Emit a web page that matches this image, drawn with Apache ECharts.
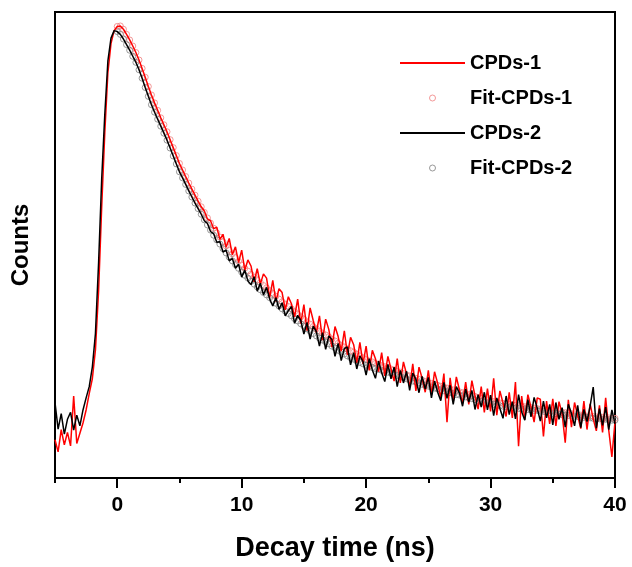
<!DOCTYPE html>
<html>
<head>
<meta charset="utf-8">
<script src="https://cdn.jsdelivr.net/npm/echarts@6/dist/echarts.min.js"></script>
<style>
  html, body { margin: 0; padding: 0; background: #fff; }
  #chart { width: 632px; height: 567px; }
</style>
</head>
<body>
<div id="chart"></div>
<script>
// time grid (ns): raw decays start at -5 ns, fits start at 0 ns, both 0.25 ns apart
const rawStart = -5
const fitStart = 0
const step = 0.25

const xLabels = [0, 10, 20, 30, 40]
const xMinorTicks = [-5, 5, 15, 25, 35]

// CPDs-1 (red) measured counts, normalised 0-100
const cpds1 = [
  8.2, 5.6, 10.4, 7.1, 9.8, 6.9, 17.6, 7.4, 9.6, 11.8,
  14.6, 18.1, 21.3, 27.5, 40.0, 58.0, 74.0, 87.0, 93.2, 96.0,
  96.9, 97.0, 96.3, 95.2, 94.0, 92.7, 91.3, 89.7, 87.9, 86.0, 84.0, 82.2, 80.5, 78.9,
  77.3, 75.8, 74.3, 72.6, 70.9, 69.2, 67.5, 66.1, 64.7, 63.3, 62.0, 60.7, 59.4, 58.2,
  57.3, 55.6, 55.2, 53.5, 53.8, 51.2, 52.3, 49.5, 51.4, 47.9, 49.6, 46.2,
  48.9, 44.6, 46.8, 45.5, 42.1, 44.9, 41.6, 43.8, 42.9, 38.7, 42.4, 37.9, 40.6, 39.8, 36.1, 38.9, 37.4, 34.6, 38.4, 33.1,
  37.2, 31.6, 36.5, 33.8, 31.2, 34.8, 29.6, 34.1, 31.9, 28.1, 32.5, 30.4, 27.2, 31.6, 26.4, 30.2, 28.6, 24.7, 29.1, 24.5,
  28.3, 23.1, 27.4, 25.6, 22.8, 26.9, 21.9, 26.1, 23.4, 20.8, 25.6, 20.4, 24.9, 22.3, 19.6, 24.5, 18.7, 23.8, 21.4, 18.4,
  23.1, 17.9, 22.8, 20.3, 17.2, 22.4, 12.0, 21.5, 16.4, 21.7, 18.9, 16.0, 20.6, 15.8, 20.9, 17.6, 14.8, 19.6, 14.1, 19.2,
  14.3, 21.4, 13.5, 18.7, 16.1, 13.2, 18.4, 12.9, 20.6, 6.8, 17.6, 12.5, 17.9, 15.2, 12.0, 17.2, 16.9, 8.9, 16.5, 11.6,
  17.0, 11.2, 16.4, 13.8, 7.6, 16.8, 10.9, 16.2, 13.4, 10.6, 16.5, 10.4, 15.9, 12.7, 10.1, 15.6, 9.8, 17.2, 10.2, 4.5, 12.1
]

// CPDs-2 (black) measured counts
const cpds2 = [
  16.2, 10.5, 13.8, 9.4, 12.6, 14.1, 10.3, 13.5, 11.2, 14.6,
  17.2, 19.6, 23.8, 31.0, 46.0, 64.0, 78.0, 89.5, 94.4, 96.0,
  95.8, 95.2, 94.2, 93.0, 91.8, 90.5, 89.2, 87.6, 85.8, 83.8, 81.9, 80.1, 78.5, 77.0,
  75.5, 74.0, 72.5, 70.8, 69.1, 67.4, 65.7, 64.4, 63.0, 61.6, 60.3, 59.0, 57.8, 56.6,
  55.2, 54.6, 52.9, 52.4, 50.6, 50.7, 48.5, 48.9, 46.6, 47.1, 45.0, 45.9,
  43.1, 44.6, 42.3, 41.5, 43.2, 40.1, 41.8, 39.3, 40.9, 38.4, 36.9, 38.7, 36.2, 37.6, 34.8, 35.9, 36.8, 33.2, 34.9, 33.8,
  30.9, 33.4, 29.8, 32.6, 31.4, 28.3, 31.2, 27.6, 30.5, 29.7, 26.1, 28.9, 25.2, 27.8, 28.1, 24.3, 26.9, 23.4, 26.2, 25.0,
  22.1, 25.6, 23.2, 21.4, 25.1, 22.6, 20.7, 24.4, 21.3, 23.8, 19.6, 23.1, 20.4, 22.9, 18.8, 22.5, 21.2, 18.3, 21.8, 19.1,
  21.6, 17.2, 20.8, 18.4, 16.6, 20.5, 17.1, 19.9, 15.8, 19.6, 18.2, 15.4, 19.1, 16.3, 18.8, 14.7, 17.9, 15.2, 18.4, 14.6,
  17.8, 13.4, 17.2, 14.9, 12.8, 17.6, 13.6, 16.4, 12.7, 17.9, 14.2, 12.4, 16.8, 13.1, 17.3, 15.0, 12.2, 16.5, 12.9, 15.8,
  11.4, 16.2, 12.6, 15.1, 10.9, 15.8, 13.9, 11.2, 15.6, 10.8, 14.7, 12.1, 15.4, 19.5, 10.7, 14.9, 11.3, 15.2, 10.4, 14.6, 11.6
]

// fitted curves, from 0 ns
const fit1 = [
  96.9, 97.0, 96.3, 95.2, 94.0, 92.7, 91.3, 89.7, 87.9, 86.0, 84.0, 82.2, 80.5, 78.9, 77.3, 75.8, 74.3, 72.6, 70.9, 69.2,
  67.5, 66.1, 64.7, 63.3, 62.0, 60.7, 59.4, 58.2, 57.0, 55.8, 54.7, 53.6, 52.6, 51.7, 50.7, 49.8, 48.9, 48.1, 47.3, 46.5, 45.7,
  45.0, 44.4, 43.7, 43.1, 42.5, 41.9, 41.3, 40.8, 40.2, 39.6, 39.0, 38.4, 37.8, 37.3, 36.8, 36.3, 35.7, 35.2, 34.6, 34.1,
  33.5, 33.0, 32.5, 32.0, 31.5, 31.1, 30.7, 30.3, 29.8, 29.4, 28.9, 28.5, 28.1, 27.7, 27.3, 27.0, 26.6, 26.2, 25.8, 25.4,
  25.1, 24.9, 24.6, 24.4, 24.1, 23.9, 23.7, 23.4, 23.2, 22.9, 22.7, 22.4, 22.1, 21.9, 21.6, 21.4, 21.2, 21.0, 20.7, 20.5,
  20.3, 20.1, 19.9, 19.7, 19.5, 19.3, 19.1, 18.9, 18.7, 18.5, 18.3, 18.1, 17.9, 17.7, 17.5, 17.3, 17.1, 16.9, 16.7, 16.5,
  16.4, 16.3, 16.1, 16.0, 15.9, 15.8, 15.7, 15.6, 15.5, 15.4, 15.3, 15.2, 15.1, 15.0, 14.9, 14.8, 14.7, 14.6, 14.5, 14.4,
  14.3, 14.2, 14.1, 14.0, 13.9, 13.8, 13.7, 13.6, 13.5, 13.4, 13.3, 13.3, 13.2, 13.1, 13.0, 13.0, 12.9, 12.9, 12.8, 12.8
]

const fit2 = [
  95.8, 95.2, 94.2, 93.0, 91.8, 90.5, 89.2, 87.6, 85.8, 83.8, 81.9, 80.1, 78.5, 77.0, 75.5, 74.0, 72.5, 70.8, 69.1, 67.4,
  65.7, 64.4, 63.0, 61.6, 60.3, 59.0, 57.8, 56.6, 55.4, 54.3, 53.2, 52.1, 51.1, 50.2, 49.2, 48.3, 47.4, 46.6, 45.8, 45.0, 44.2,
  43.5, 42.9, 42.2, 41.6, 41.0, 40.4, 39.8, 39.3, 38.7, 38.1, 37.5, 36.9, 36.3, 35.8, 35.3, 34.8, 34.2, 33.7, 33.1, 32.6,
  32.0, 31.5, 31.0, 30.5, 30.0, 29.6, 29.2, 28.8, 28.3, 27.9, 27.4, 27.0, 26.6, 26.2, 25.8, 25.5, 25.1, 24.8, 24.5, 24.2,
  24.0, 23.7, 23.5, 23.3, 23.1, 22.9, 22.7, 22.5, 22.2, 22.0, 21.7, 21.5, 21.3, 21.0, 20.8, 20.6, 20.4, 20.1, 19.9, 19.7,
  19.5, 19.3, 19.1, 18.9, 18.7, 18.5, 18.3, 18.1, 17.9, 17.8, 17.6, 17.4, 17.2, 17.0, 16.8, 16.6, 16.4, 16.2, 16.1, 15.9,
  15.8, 15.6, 15.5, 15.4, 15.3, 15.2, 15.1, 15.0, 14.9, 14.8, 14.8, 14.7, 14.6, 14.5, 14.5, 14.4, 14.3, 14.1, 14.0, 13.9,
  13.8, 13.7, 13.6, 13.5, 13.4, 13.4, 13.3, 13.2, 13.1, 13.0, 13.0, 12.9, 12.8, 12.7, 12.7, 12.6, 12.6, 12.5, 12.4, 12.4
]

const FONT = 'Arial, "Liberation Sans", sans-serif'
const LINE_ICON = 'path://M0,0H65V2H0Z'

function pairs(vals, t0) {
  return vals.map((v, i) => [t0 + i * step, v])
}

const chart = echarts.init(document.getElementById('chart'))

const option = {
  animation: false,
  backgroundColor: '#fff',
  grid: {
    left: 55,
    right: 17,
    top: 12,
    bottom: 89,
    show: true,
    borderColor: '#000',
    borderWidth: 2
  },
  legend: {
    orient: 'vertical',
    left: 400,
    top: 53,
    padding: 0,
    itemWidth: 65,
    itemHeight: 6,
    itemGap: 15,
    align: 'left',
    selectedMode: false,
    textStyle: { color: '#000', fontSize: 20, fontWeight: 'bold', fontFamily: FONT },
    data: [
      { name: 'CPDs-1', icon: LINE_ICON, itemStyle: { color: '#ff0000', borderWidth: 0 } },
      { name: 'Fit-CPDs-1', icon: 'circle', itemStyle: { color: 'transparent', borderColor: '#f08080', borderWidth: 1 } },
      { name: 'CPDs-2', icon: LINE_ICON, itemStyle: { color: '#000', borderWidth: 0 } },
      { name: 'Fit-CPDs-2', icon: 'circle', itemStyle: { color: 'transparent', borderColor: '#808080', borderWidth: 1 } }
    ]
  },
  xAxis: [
    {
      type: 'value',
      min: -5,
      max: 40,
      position: 'bottom',
      name: 'Decay time (ns)',
      nameLocation: 'middle',
      nameGap: 57,
      nameTextStyle: { color: '#000', fontSize: 27, fontWeight: 'bold', fontFamily: FONT },
      axisLine: { onZero: false, lineStyle: { color: '#000', width: 2 } },
      axisTick: { customValues: xLabels, length: 10, lineStyle: { color: '#000', width: 2 } },
      axisLabel: { customValues: xLabels, color: '#000', fontSize: 21, fontWeight: 'bold', fontFamily: FONT, margin: 17 },
      splitLine: { show: false }
    },
    {
      type: 'value',
      min: -5,
      max: 40,
      position: 'bottom',
      axisLine: { show: false, onZero: false },
      axisTick: { customValues: xMinorTicks, length: 5, lineStyle: { color: '#000', width: 2 } },
      axisLabel: { show: false },
      splitLine: { show: false }
    }
  ],
  yAxis: {
    type: 'value',
    min: 0,
    max: 100,
    name: 'Counts',
    nameLocation: 'middle',
    nameGap: 22,
    nameTextStyle: { color: '#000', fontSize: 24, fontWeight: 'bold', fontFamily: FONT },
    axisLine: { show: true, onZero: false, lineStyle: { color: '#000', width: 2 } },
    axisTick: { show: false },
    axisLabel: { show: false },
    splitLine: { show: false }
  },
  series: [
    {
      name: 'Fit-CPDs-1',
      type: 'scatter',
      data: pairs(fit1, fitStart),
      symbol: 'circle',
      symbolSize: 6,
      itemStyle: { color: 'transparent', borderColor: '#f08080', borderWidth: 1 }
    },
    {
      name: 'Fit-CPDs-2',
      type: 'scatter',
      data: pairs(fit2, fitStart),
      symbol: 'circle',
      symbolSize: 6,
      itemStyle: { color: 'transparent', borderColor: '#808080', borderWidth: 1 }
    },
    {
      name: 'CPDs-1',
      type: 'line',
      data: pairs(cpds1, rawStart),
      showSymbol: false,
      symbol: 'none',
      color: '#ff0000',
      lineStyle: { color: '#ff0000', width: 1.5 }
    },
    {
      name: 'CPDs-2',
      type: 'line',
      data: pairs(cpds2, rawStart),
      showSymbol: false,
      symbol: 'none',
      color: '#000',
      lineStyle: { color: '#000', width: 1.5 }
    }
  ]
}

chart.setOption(option)
</script>
</body>
</html>
